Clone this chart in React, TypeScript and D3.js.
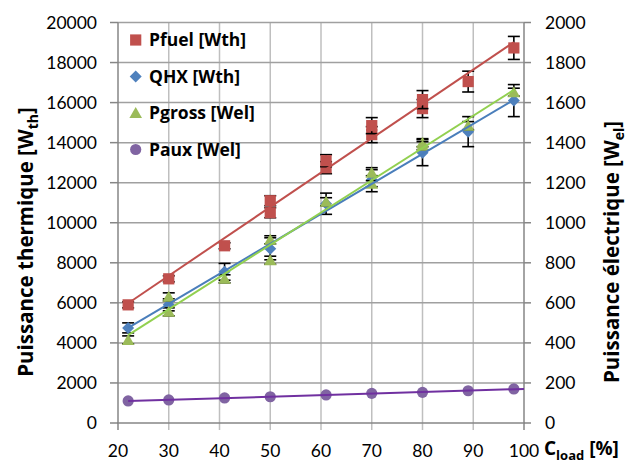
import React from "react";
import * as d3 from "d3";

// ---- data ----
const xTicks = [20, 30, 40, 50, 60, 70, 80, 90, 100];
const leftTicks = [0, 2000, 4000, 6000, 8000, 10000, 12000, 14000, 16000, 18000, 20000];
const rightTicks = [0, 200, 400, 600, 800, 1000, 1200, 1400, 1600, 1800, 2000];

const pfuelLoad = [22, 30, 41, 50, 50, 61, 61, 70, 70, 80, 80, 89, 98];
const pfuelValue = [5900, 7200, 8850, 10500, 11100, 12750, 13100, 14400, 14850, 15700, 16150, 17050, 18730];
const pfuelError = [150, 150, 150, 250, 250, 300, 300, 400, 400, 450, 450, 520, 575];

const qhxLoad = [22, 30, 41, 50, 61, 70, 80, 89, 98];
const qhxValue = [4750, 5900, 7550, 8700, 10950, 12150, 13500, 14550, 16100];
const qhxError = [250, 300, 420, 550, 530, 600, 650, 750, 800];

const pgrossLoad = [22, 30, 30, 41, 50, 50, 61, 70, 70, 80, 80, 89, 98];
const pgrossValue = [415, 630, 555, 720, 915, 813, 1105, 1250, 1195, 1400, 1385, 1485, 1652];
const pgrossError = [20, 20, 20, 20, 20, 20, 20, 15, 15, 20, 20, 20, 20];

const pauxLoad = [22, 30, 41, 50, 61, 70, 80, 89, 98];
const pauxValue = [110, 115, 125, 131, 140, 148, 153, 161, 170];

const legendLabels = ["Pfuel [Wth]", "QHX [Wth]", "Pgross [Wel]", "Paux [Wel]"];

// ---- layout ----
const W = 635, H = 463;
const x = d3.scaleLinear().domain([20, 100]).range([118, 524]);
const yL = d3.scaleLinear().domain([0, 20000]).range([423, 22.5]);
const yR = d3.scaleLinear().domain([0, 2000]).range([423, 22.5]);

const C = {
  red: "#c0504d", blue: "#4f81bd", green: "#9bbb59", purple: "#8064a2",
  redLine: "#c0504d", blueLine: "#4a7ebb", greenLine: "#92d050", purpleLine: "#7030a0",
};
const FONT = "Lato, 'Open Sans', sans-serif";
const BOLD = "'Open Sans', 'Noto Sans', sans-serif";

function linreg(xs: number[], ys: number[]) {
  const mx = d3.mean(xs)!, my = d3.mean(ys)!;
  let sxy = 0, sxx = 0;
  xs.forEach((v, i) => { sxy += (v - mx) * (ys[i] - my); sxx += (v - mx) * (v - mx); });
  const b = sxy / sxx;
  return (t: number) => my + b * (t - mx);
}

type Shape = "square" | "diamond" | "triangle" | "circle";
function Marker({ cx, cy, shape, fill }: { cx: number; cy: number; shape: Shape; fill: string }) {
  if (shape === "square") return <rect x={cx - 5.6} y={cy - 5.6} width={11.2} height={11.2} fill={fill} />;
  if (shape === "circle") return <circle cx={cx} cy={cy} r={5.6} fill={fill} />;
  if (shape === "diamond") {
    const s = 6;
    return <path d={`M${cx},${cy - s}L${cx + s},${cy}L${cx},${cy + s}L${cx - s},${cy}Z`} fill={fill} />;
  }
  return <path d={`M${cx},${cy - 6}L${cx + 6.3},${cy + 5}L${cx - 6.3},${cy + 5}Z`} fill={fill} />;
}

function Series({ loads, values, errors, y, shape, fill }: any) {
  return (
    <g>
      {loads.map((l: number, i: number) => {
        const cx = x(l);
        const cy = y(values[i]);
        const e = errors ? errors[i] : 0;
        const y1 = y(values[i] + e), y2 = y(values[i] - e);
        return (
          <g key={i}>
            {errors && (
              <g stroke="#000" strokeWidth={1.6}>
                <line x1={cx} x2={cx} y1={y1} y2={y2} />
                <line x1={cx - 6} x2={cx + 6} y1={y1} y2={y1} />
                <line x1={cx - 6} x2={cx + 6} y1={y2} y2={y2} />
              </g>
            )}
            <Marker cx={cx} cy={cy} shape={shape} fill={fill} />
          </g>
        );
      })}
    </g>
  );
}

function Trend({ loads, values, y, color, x0, x1 }: any) {
  const f = linreg(loads, values);
  const line = d3.line<number>().x((t) => x(t)).y((t) => y(f(t)));
  return <path d={line([x0, x1])!} stroke={color} strokeWidth={2} fill="none" />;
}

export default function App() {
  const legendShapes: Shape[] = ["square", "diamond", "triangle", "circle"];
  const legendColors = [C.red, C.blue, C.green, C.purple];
  return (
    <svg width={W} height={H} style={{ position: "absolute", left: 0, top: 0, background: "#fff" }} fontFamily={FONT}>
      <rect width={W} height={H} fill="#fff" />
      {/* gridlines */}
      {xTicks.slice(1, -1).map((t) => (
        <line key={"vx" + t} x1={x(t)} x2={x(t)} y1={yL(20000)} y2={430} stroke="#bfbfbf" strokeWidth={1.5} />
      ))}
      {leftTicks.slice(1).map((t) => (
        <line key={"hy" + t} x1={x(20)} x2={x(100)} y1={yL(t)} y2={yL(t)} stroke="#a0a0a0" strokeWidth={1.5} />
      ))}
      {/* axes */}
      <g stroke="#868686" strokeWidth={1.5}>
        <line x1={x(20)} x2={x(20)} y1={yL(20000)} y2={yL(0) + 7} />
        <line x1={x(100)} x2={x(100)} y1={yL(20000)} y2={yL(0) + 7} />
        <line x1={x(20) - 1} x2={x(100) + 1} y1={yL(0)} y2={yL(0)} />
        {leftTicks.map((t) => (
          <line key={"lt" + t} x1={x(20) - 8} x2={x(20)} y1={yL(t)} y2={yL(t)} />
        ))}
        {rightTicks.map((t) => (
          <line key={"rt" + t} x1={x(100)} x2={x(100) + 7} y1={yR(t)} y2={yR(t)} />
        ))}
      </g>
      {/* tick labels */}
      <g fontSize={17.5} fill="#000">
        {leftTicks.map((t) => (
          <text key={"ll" + t} x={97} y={yL(t)} dy="0.36em" textAnchor="end">{t}</text>
        ))}
        {rightTicks.map((t) => (
          <text key={"rl" + t} x={545} y={yR(t)} dy="0.36em" textAnchor="start">{t}</text>
        ))}
        {xTicks.map((t) => (
          <text key={"xl" + t} x={x(t)} y={457} textAnchor="middle">{t}</text>
        ))}
      </g>
      {/* axis titles */}
      <text x={544} y={455} fontWeight="bold" fontSize={19} fontFamily={BOLD}>
        C<tspan fontSize={13} dy={5}>load</tspan>
        <tspan dy={-5} fontSize={19}> [%]</tspan>
      </text>
      <text transform="translate(33,242) rotate(-90)" textAnchor="middle" fontWeight="bold" fontSize={20.5} fontFamily={BOLD}>
        Puissance thermique [W<tspan fontSize={14} dy={5}>th</tspan><tspan dy={-5}>]</tspan>
      </text>
      <text transform="translate(619,252) rotate(-90)" textAnchor="middle" fontWeight="bold" fontSize={20.5} fontFamily={BOLD}>
        Puissance électrique [W<tspan fontSize={14} dy={5}>el</tspan><tspan dy={-5}>]</tspan>
      </text>
      {/* series */}
      <Series loads={pfuelLoad} values={pfuelValue} errors={pfuelError} y={yL} shape="square" fill={C.red} />
      <Series loads={qhxLoad} values={qhxValue} errors={qhxError} y={yL} shape="diamond" fill={C.blue} />
      <Series loads={pgrossLoad} values={pgrossValue} errors={pgrossError} y={yR} shape="triangle" fill={C.green} />
      <Series loads={pauxLoad} values={pauxValue} errors={null} y={yR} shape="circle" fill={C.purple} />
      {/* trendlines */}
      <Trend loads={pfuelLoad} values={pfuelValue} y={yL} color={C.redLine} x0={22} x1={98} />
      <Trend loads={qhxLoad} values={qhxValue} y={yL} color={C.blueLine} x0={22} x1={98} />
      <Trend loads={pgrossLoad} values={pgrossValue} y={yR} color={C.greenLine} x0={22} x1={98} />
      <Trend loads={pauxLoad} values={pauxValue} y={yR} color={C.purpleLine} x0={22} x1={100} />
      {/* legend */}
      {legendLabels.map((lab, i) => (
        <g key={lab}>
          <Marker cx={135.7} cy={40 + i * 36.5} shape={legendShapes[i]} fill={legendColors[i]} />
          <text x={149} y={40 + i * 36.5} dy="0.36em" fontWeight="bold" fontSize={17.5} fontFamily={BOLD}>{lab}</text>
        </g>
      ))}
    </svg>
  );
}
